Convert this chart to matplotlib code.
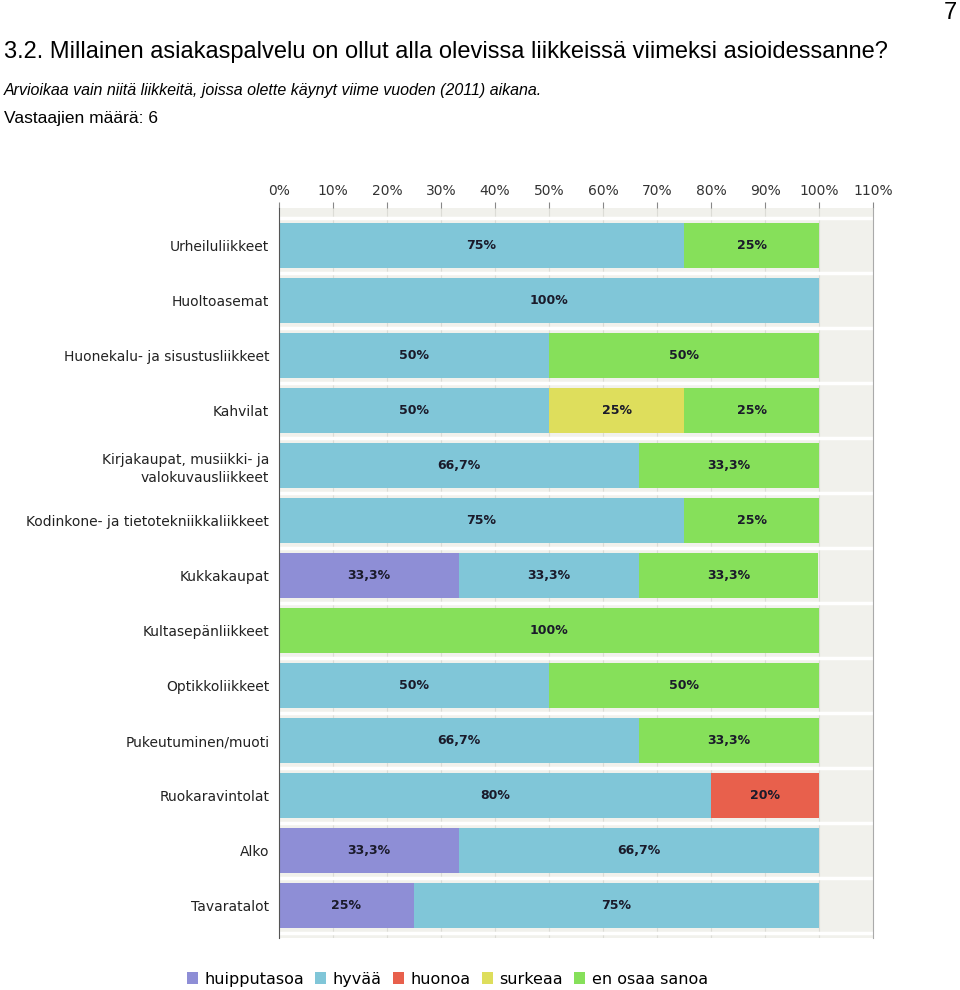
import matplotlib.pyplot as plt
import numpy as np

categories = [
    "Urheiluliikkeet",
    "Huoltoasemat",
    "Huonekalu- ja sisustusliikkeet",
    "Kahvilat",
    "Kirjakaupat, musiikki- ja\nvalokuvausliikkeet",
    "Kodinkone- ja tietotekniikkaliikkeet",
    "Kukkakaupat",
    "Kultasepänliikkeet",
    "Optikkoliikkeet",
    "Pukeutuminen/muoti",
    "Ruokaravintolat",
    "Alko",
    "Tavaratalot",
]
series_names = ["huipputasoa", "hyvää", "huonoa", "surkeaa", "en osaa sanoa"]
huipputasoa = [0, 0, 0, 0, 0, 0, 33.3, 0, 0, 0, 0, 33.3, 25]
hyvaa = [75, 100, 50, 50, 66.7, 75, 33.3, 0, 50, 66.7, 80, 66.7, 75]
huonoa = [0, 0, 0, 0, 0, 0, 0, 0, 0, 0, 20, 0, 0]
surkeaa = [0, 0, 0, 25, 0, 0, 0, 0, 0, 0, 0, 0, 0]
en_osaa = [25, 0, 50, 25, 33.3, 25, 33.3, 100, 50, 33.3, 0, 0, 0]
colors = ["#8e8ed6", "#80c6d8", "#e8604c", "#dede5c", "#86e05a"]

fig = plt.figure(figsize=(9.6, 9.9), dpi=100)

fig.text(0.004, 0.947, "3.2. Millainen asiakaspalvelu on ollut alla olevissa liikkeissä viimeksi asioidessanne?",
         fontsize=17, family="Liberation Sans", va="center")
fig.text(0.004, 0.909, "Arvioikaa vain niitä liikkeitä, joissa olette käynyt viime vuoden (2011) aikana.",
         fontsize=11.5, family="Liberation Sans", style="italic", va="center")
fig.text(0.004, 0.880, "Vastaajien määrä: 6", fontsize=12.5, family="Liberation Sans", va="center")
fig.text(0.997, 0.998, "7", fontsize=17, family="Liberation Sans", ha="right", va="top")

ax = fig.add_axes([0.2906, 0.0525, 0.6188, 0.7374])
ax.set_facecolor("#f1f1ec")
ax.set_xlim(0, 110)
y = np.arange(len(categories))
ax.set_ylim(len(categories) - 0.41, -0.68)

for xv in range(10, 110, 10):
    ax.axvline(xv, color="#dcdcd6", lw=0.8, zorder=0)
for yv in np.arange(-0.5, len(categories), 1.0):
    ax.axhline(yv, color="white", lw=2.5, zorder=0.5)

data = [huipputasoa, hyvaa, huonoa, surkeaa, en_osaa]
left = np.zeros(len(categories))
for name, vals, col in zip(series_names, data, colors):
    vals = np.array(vals)
    ax.barh(y, vals, left=left, height=0.82, color=col, label=name, zorder=2)
    for yi, (l, v) in enumerate(zip(left, vals)):
        if v > 0:
            txt = ("%.1f" % v).replace(".", ",") if v % 1 else "%d" % v
            ax.text(l + v / 2, yi, txt + "%", ha="center", va="center",
                    fontsize=9, fontweight="bold", color="#1a1a2a", zorder=3)
    left += vals

ax.xaxis.tick_top()
ax.set_xticks(range(0, 111, 10))
ax.set_xticklabels(["%d%%" % t for t in range(0, 111, 10)], fontsize=10, color="#333333")
ax.set_yticks(y)
ax.set_yticklabels(categories, fontsize=10, color="#222222", linespacing=1.4)
ax.tick_params(axis="y", length=0, pad=7)
ax.tick_params(axis="x", length=4, color="#888888", pad=3)
for s in ["top", "bottom"]:
    ax.spines[s].set_visible(False)
ax.spines["left"].set_color("#555555")
ax.spines["right"].set_color("#aaaaaa")

fig.legend(*ax.get_legend_handles_labels(), loc="center", bbox_to_anchor=(0.466, 0.011),
           ncol=5, frameon=False, fontsize=11.5, handlelength=0.7, handleheight=0.7,
           handletextpad=0.4, columnspacing=0.7)

fig.savefig("out.png", dpi=100)
